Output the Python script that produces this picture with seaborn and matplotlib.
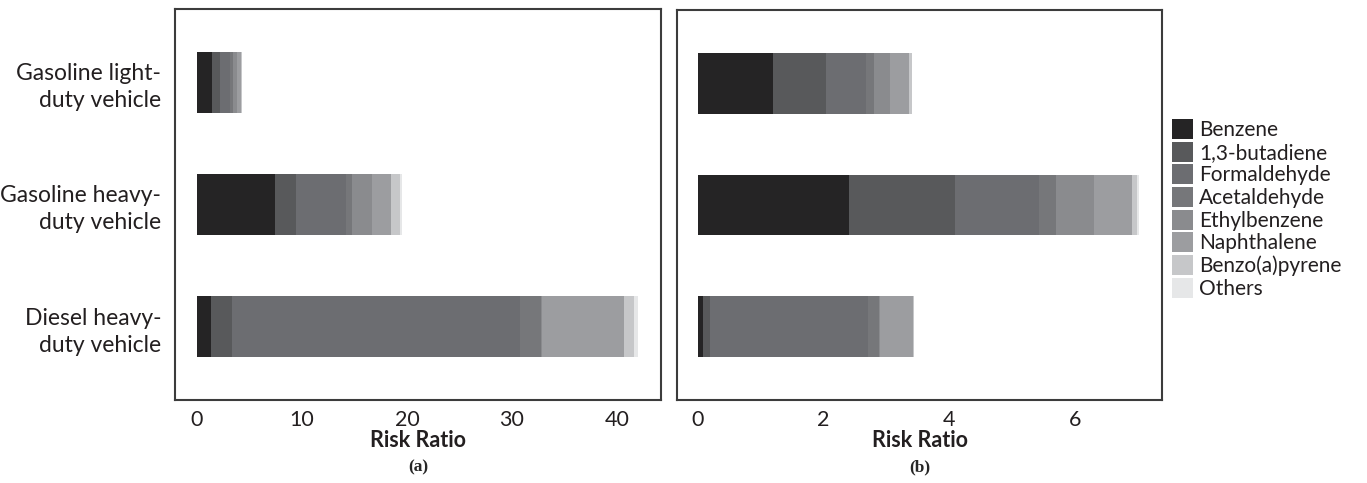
import matplotlib
matplotlib.use("Agg")
import matplotlib.pyplot as plt
import seaborn as sns
import numpy as np
import pandas as pd
from matplotlib.patches import Patch

sns.set_theme(style="white")
plt.rcParams['font.family'] = ['Lato', 'DejaVu Sans']

vehicles = ["Gasoline light-\nduty vehicle", "Gasoline heavy-\nduty vehicle", "Diesel heavy-\nduty vehicle"]
pollutants = ["Benzene", "1,3-butadiene", "Formaldehyde", "Acetaldehyde",
              "Ethylbenzene", "Naphthalene", "Benzo(a)pyrene", "Others"]
colors = ["#252425", "#58595b", "#6c6d71", "#76777a", "#8a8b8e", "#9c9da0", "#c6c7c9", "#e6e7e8"]

# Panel (a) risk ratio values per pollutant (rows = vehicles)
values_a = [
    [1.45, 0.75, 0.95, 0.30, 0.35, 0.40, 0.07, 0.03],
    [7.40, 2.00, 4.83, 0.53, 1.94, 1.81, 0.79, 0.26],
    [1.37, 1.96, 27.40, 2.07, 0.10, 7.80, 0.90, 0.40],
]
# Panel (b)
values_b = [
    [1.19, 0.85, 0.63, 0.13, 0.26, 0.30, 0.04, 0.01],
    [2.40, 1.69, 1.34, 0.27, 0.60, 0.60, 0.08, 0.04],
    [0.09, 0.11, 2.51, 0.17, 0.01, 0.53, 0.01, 0.00],
]

W, H = 1367, 483
fig = plt.figure(figsize=(W / 100, H / 100), dpi=100)

def px_axes(l, t, r, b):
    return fig.add_axes([l / W, 1 - b / H, (r - l) / W, (b - t) / H])

ax_a = px_axes(175, 9, 661, 400)
ax_b = px_axes(677, 10, 1162, 400)

def stacked(ax, vals, xlim, ticks):
    arr = np.array(vals)
    cum = np.cumsum(arr, axis=1)
    for j in range(len(pollutants) - 1, -1, -1):
        df = pd.DataFrame({"vehicle": vehicles, "value": cum[:, j]})
        sns.barplot(data=df, x="value", y="vehicle", orient="h", ax=ax,
                    color=colors[j], width=0.5, saturation=1, linewidth=0)
    ax.set_xlim(*xlim)
    ax.set_ylim(2.6, -0.6)
    ax.set_xticks(ticks)
    ax.set_xticklabels([str(t) for t in ticks], fontsize=15.5, color="#231f20")
    ax.set_xlabel("Risk Ratio", fontsize=15.5, fontweight="bold", color="#231f20", labelpad=0)
    ax.set_ylabel("")
    ax.tick_params(axis="x", length=0, pad=7)
    for s in ax.spines.values():
        s.set_color("#3c3c3c")
        s.set_linewidth(1.5)
        s.set_visible(True)

stacked(ax_a, values_a, (-2.1, 44.2), [0, 10, 20, 30, 40])
stacked(ax_b, values_b, (-0.33, 7.38), [0, 2, 4, 6])

ax_a.tick_params(axis="y", direction="in", length=3, width=1, color="#555555", labelsize=16.5,
                 labelcolor="#231f20", pad=10)
for lab in ax_a.get_yticklabels():
    lab.set_linespacing(1.35)
ax_b.tick_params(axis="y", left=False, labelleft=False)

fig.text(418 / W, 1 - 467 / H, "(a)", ha="center", va="center", fontsize=12.5,
         fontweight="bold", family="Liberation Serif")
fig.text(920 / W, 1 - 467 / H, "(b)", ha="center", va="center", fontsize=12.5,
         fontweight="bold", family="Liberation Serif")

handles = [Patch(facecolor=c, edgecolor="none", label=p) for p, c in zip(pollutants, colors)]
fig.legend(handles=handles, loc="upper left", bbox_to_anchor=(1172 / W, 1 - 119 / H),
           frameon=False, fontsize=15, handlelength=1.0, handleheight=1.1,
           labelspacing=0.075, handletextpad=0.3, borderpad=0, borderaxespad=0,
           labelcolor="#231f20")

fig.savefig("out.png", dpi=100)
